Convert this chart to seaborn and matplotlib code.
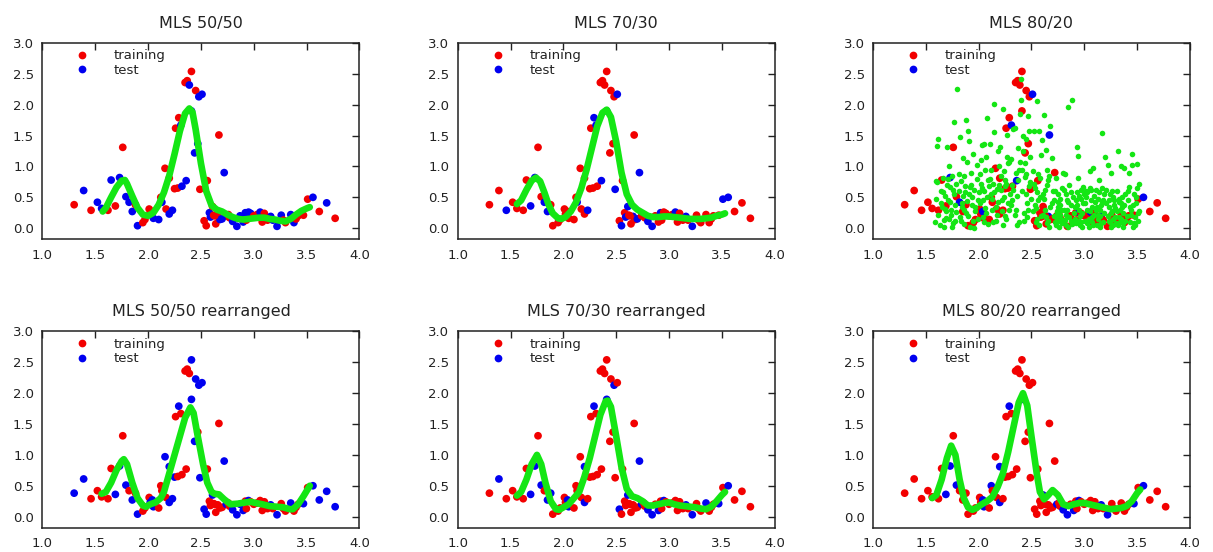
import numpy as np
import pandas as pd
import matplotlib
matplotlib.use('Agg')
import matplotlib.pyplot as plt
import seaborn as sns

# observations (same in every panel, only the training/test split changes)
obs_x = [1.30, 1.39, 1.46, 1.52, 1.56, 1.62, 1.65, 1.69, 1.73, 1.76,
         1.79, 1.82, 1.85, 1.88, 1.90, 1.95, 1.97, 2.01, 2.02, 2.05,
         2.04, 2.10, 2.12, 2.13, 2.16, 2.17, 2.20, 2.20, 2.23, 2.25,
         2.28, 2.26, 2.29, 2.31, 2.32, 2.35, 2.36, 2.37, 2.39, 2.41,
         2.41, 2.44, 2.45, 2.47, 2.48, 2.51, 2.49, 2.53, 2.55, 2.56,
         2.58, 2.59, 2.61, 2.62, 2.64, 2.67, 2.66, 2.68, 2.70, 2.72,
         2.74, 2.77, 2.80, 2.84, 2.87, 2.90, 2.92, 2.95, 2.97, 3.00,
         3.03, 3.06, 3.08, 3.10, 3.13, 3.16, 3.18, 3.22, 3.26, 3.30,
         3.35, 3.38, 3.42, 3.47, 3.51, 3.56, 3.62, 3.69, 3.77,
         2.63, 2.76, 2.93, 3.12, 3.28, 3.40]
obs_y = [0.38, 0.61, 0.29, 0.42, 0.32, 0.29, 0.78, 0.36, 0.82, 1.31,
         0.51, 0.42, 0.27, 0.38, 0.04, 0.09, 0.14, 0.31, 0.23, 0.16,
         0.27, 0.14, 0.50, 0.42, 0.97, 0.31, 0.81, 0.23, 0.29, 0.64,
         0.65, 1.62, 1.79, 1.67, 0.68, 2.36, 0.77, 2.39, 2.32, 2.54,
         1.90, 1.22, 2.23, 1.37, 2.13, 2.17, 0.63, 0.12, 0.04, 0.77,
         0.25, 0.18, 0.35, 0.21, 0.07, 1.51, 0.19, 0.14, 0.15, 0.90,
         0.20, 0.17, 0.11, 0.03, 0.20, 0.10, 0.25, 0.26, 0.24, 0.20,
         0.22, 0.26, 0.10, 0.24, 0.13, 0.19, 0.13, 0.03, 0.21, 0.09,
         0.22, 0.09, 0.20, 0.21, 0.47, 0.50, 0.27, 0.41, 0.16,
         0.20, 0.22, 0.13, 0.16, 0.13, 0.15]

# ids (1-based) of the observations that are test points in each panel
test_50 = [2, 4, 5, 7, 9, 11, 12, 13, 15, 20, 22, 24, 28, 29, 34, 35, 37, 39, 41, 42,
           44, 45, 46, 51, 52, 58, 59, 60, 61, 63, 64, 65, 66, 67, 68, 69, 72, 76, 77,
           78, 79, 81, 82, 86, 88]
test_70 = [3, 8, 9, 12, 13, 24, 29, 33, 34, 37, 41, 46, 47, 49, 52, 53, 57, 59, 60, 63,
           64, 67, 72, 76, 78, 85, 86]
test_80 = [9, 12, 21, 34, 37, 46, 56, 57, 68, 72, 76, 86]
test_50r = [1, 2, 8, 9, 11, 13, 15, 19, 20, 21, 25, 27, 28, 29, 30, 33, 40, 41, 42, 43,
            45, 46, 47, 48, 49, 53, 60, 61, 63, 64, 65, 66, 68, 76, 78, 81, 84, 86, 87,
            88, 89]
test_70r = [2, 8, 9, 11, 13, 14, 20, 21, 27, 28, 33, 41, 45, 48, 53, 60, 61, 63, 64, 66,
            68, 76, 78, 81, 84, 86]
test_80r = [8, 9, 11, 20, 21, 23, 27, 28, 33, 41, 53, 61, 63, 64, 66, 68, 76, 78, 84, 86]

# MLS fits
mls50_x = [1.57, 1.60, 1.65, 1.70, 1.75, 1.78, 1.80, 1.85, 1.90, 1.95, 2.00, 2.05, 2.10,
           2.15, 2.20, 2.25, 2.30, 2.35, 2.39, 2.42, 2.45, 2.50, 2.55, 2.60, 2.65, 2.70,
           2.75, 2.80, 2.85, 2.90, 2.95, 3.00, 3.05, 3.10, 3.15, 3.20, 3.25, 3.30, 3.35,
           3.40, 3.45, 3.50, 3.53]
mls50_y = [0.27, 0.33, 0.50, 0.66, 0.77, 0.78, 0.72, 0.52, 0.33, 0.22, 0.20, 0.25, 0.38,
           0.58, 0.85, 1.20, 1.57, 1.86, 1.94, 1.88, 1.60, 1.05, 0.60, 0.37, 0.30, 0.27,
           0.22, 0.18, 0.15, 0.14, 0.15, 0.16, 0.17, 0.17, 0.15, 0.14, 0.12, 0.11, 0.15,
           0.22, 0.28, 0.32, 0.34]
mls70_x = [1.56, 1.60, 1.65, 1.70, 1.74, 1.78, 1.82, 1.86, 1.90, 1.95, 1.98, 2.02, 2.07,
           2.12, 2.17, 2.22, 2.27, 2.32, 2.37, 2.41, 2.45, 2.50, 2.55, 2.60, 2.65, 2.70,
           2.75, 2.80, 2.85, 2.90, 2.95, 3.00, 3.05, 3.10, 3.15, 3.20, 3.25, 3.30, 3.35,
           3.40, 3.45, 3.50, 3.53]
mls70_y = [0.39, 0.45, 0.62, 0.77, 0.82, 0.76, 0.58, 0.38, 0.24, 0.16, 0.15, 0.18, 0.27,
           0.42, 0.65, 0.95, 1.30, 1.65, 1.87, 1.92, 1.80, 1.40, 0.90, 0.55, 0.38, 0.30,
           0.25, 0.20, 0.18, 0.18, 0.19, 0.19, 0.18, 0.17, 0.16, 0.15, 0.15, 0.15, 0.16,
           0.17, 0.20, 0.22, 0.24]
mls50r_x = [1.56, 1.60, 1.65, 1.70, 1.75, 1.77, 1.80, 1.85, 1.90, 1.95, 1.98, 2.02, 2.07,
            2.12, 2.15, 2.20, 2.25, 2.30, 2.35, 2.40, 2.43, 2.47, 2.52, 2.56, 2.60, 2.63,
            2.67, 2.72, 2.78, 2.85, 2.92, 2.97, 3.02, 3.08, 3.15, 3.22, 3.28, 3.34, 3.37,
            3.42, 3.47, 3.53]
mls50r_y = [0.37, 0.40, 0.55, 0.75, 0.90, 0.93, 0.85, 0.55, 0.30, 0.18, 0.16, 0.20, 0.23,
            0.30, 0.40, 0.70, 1.00, 1.30, 1.60, 1.77, 1.68, 1.30, 0.85, 0.55, 0.40, 0.37,
            0.36, 0.28, 0.20, 0.21, 0.23, 0.24, 0.22, 0.20, 0.17, 0.16, 0.15, 0.12, 0.12,
            0.20, 0.33, 0.50]
mls70r_x = [1.56, 1.60, 1.65, 1.70, 1.75, 1.79, 1.83, 1.88, 1.93, 1.96, 2.00, 2.05, 2.10,
            2.15, 2.20, 2.25, 2.30, 2.35, 2.40, 2.42, 2.45, 2.50, 2.55, 2.60, 2.65, 2.70,
            2.75, 2.80, 2.85, 2.90, 2.95, 3.00, 3.05, 3.10, 3.15, 3.20, 3.25, 3.30, 3.35,
            3.40, 3.45, 3.50, 3.53]
mls70r_y = [0.34, 0.40, 0.60, 0.85, 1.00, 0.85, 0.55, 0.25, 0.12, 0.11, 0.15, 0.20, 0.30,
            0.40, 0.65, 0.95, 1.30, 1.65, 1.87, 1.88, 1.78, 1.30, 0.80, 0.45, 0.33, 0.30,
            0.25, 0.18, 0.18, 0.20, 0.22, 0.23, 0.20, 0.18, 0.17, 0.16, 0.15, 0.13, 0.12,
            0.16, 0.25, 0.35, 0.40]
mls80r_x = [1.56, 1.60, 1.65, 1.70, 1.74, 1.78, 1.82, 1.86, 1.90, 1.94, 1.98, 2.03, 2.08,
            2.13, 2.18, 2.23, 2.28, 2.33, 2.38, 2.42, 2.46, 2.50, 2.55, 2.58, 2.62, 2.66,
            2.70, 2.75, 2.80, 2.85, 2.90, 2.95, 3.00, 3.05, 3.10, 3.15, 3.20, 3.25, 3.30,
            3.35, 3.40, 3.45, 3.50, 3.53]
mls80r_y = [0.30, 0.35, 0.60, 0.95, 1.15, 1.00, 0.60, 0.30, 0.15, 0.11, 0.14, 0.20, 0.25,
            0.32, 0.48, 0.70, 1.05, 1.45, 1.85, 2.00, 1.80, 1.30, 0.70, 0.40, 0.28, 0.35,
            0.43, 0.35, 0.20, 0.17, 0.20, 0.22, 0.22, 0.20, 0.18, 0.16, 0.14, 0.12, 0.13,
            0.14, 0.17, 0.25, 0.38, 0.44]

# MLS 80/20 output points
mls80_x = [1.59, 1.60, 1.61, 1.62, 1.63, 1.64, 1.65, 1.66, 1.67, 1.68, 1.69, 1.70, 1.61, 1.64, 1.67, 1.69, 1.62, 1.66, 1.60, 1.68,
           1.71, 1.72, 1.73, 1.74, 1.75, 1.76, 1.77, 1.78, 1.79, 1.72, 1.74, 1.76, 1.78, 1.71, 1.73, 1.75, 1.77, 1.79, 1.70, 1.80,
           1.81, 1.82, 1.83, 1.84, 1.85, 1.86, 1.87, 1.88, 1.89, 1.81, 1.83, 1.85, 1.87, 1.89, 1.82, 1.84, 1.86, 1.88, 1.90, 1.86,
           1.91, 1.92, 1.93, 1.94, 1.95, 1.96, 1.97, 1.98, 1.99, 1.91, 1.93, 1.95, 1.97, 1.99, 1.92, 1.94, 1.96, 1.98, 2.00, 1.90,
           2.01, 2.02, 2.03, 2.04, 2.05, 2.06, 2.07, 2.08, 2.09, 2.01, 2.03, 2.05, 2.07, 2.09, 2.02, 2.04, 2.06, 2.08, 2.10, 2.05,
           2.11, 2.12, 2.13, 2.14, 2.15, 2.16, 2.17, 2.18, 2.19, 2.11, 2.13, 2.15, 2.17, 2.19, 2.12, 2.14, 2.16, 2.18, 2.20, 2.15,
           2.21, 2.22, 2.23, 2.24, 2.25, 2.26, 2.27, 2.28, 2.29, 2.21, 2.23, 2.25, 2.27, 2.29, 2.22, 2.24, 2.26, 2.28, 2.30, 2.25,
           2.31, 2.32, 2.33, 2.34, 2.35, 2.36, 2.37, 2.38, 2.39, 2.31, 2.33, 2.35, 2.37, 2.39, 2.32, 2.34, 2.36, 2.38, 2.40, 2.40,
           2.41, 2.42, 2.43, 2.44, 2.45, 2.46, 2.47, 2.48, 2.49, 2.41, 2.43, 2.45, 2.47, 2.49, 2.42, 2.44, 2.46, 2.48, 2.50, 2.45,
           2.51, 2.52, 2.53, 2.54, 2.55, 2.56, 2.57, 2.58, 2.59, 2.51, 2.53, 2.55, 2.57, 2.59, 2.52, 2.54, 2.56, 2.58, 2.60, 2.55,
           2.61, 2.62, 2.63, 2.64, 2.65, 2.66, 2.67, 2.68, 2.69, 2.61, 2.63, 2.65, 2.67, 2.69, 2.62, 2.64, 2.66, 2.68, 2.70, 2.65,
           2.71, 2.72, 2.73, 2.74, 2.75, 2.76, 2.77, 2.78, 2.79, 2.71, 2.73, 2.75, 2.77, 2.79, 2.72, 2.74, 2.76, 2.78, 2.80, 2.75, 2.73, 2.77,
           2.81, 2.82, 2.83, 2.84, 2.85, 2.86, 2.87, 2.88, 2.89, 2.81, 2.83, 2.85, 2.87, 2.89, 2.82, 2.84, 2.86, 2.88, 2.90, 2.85, 2.83, 2.87,
           2.91, 2.92, 2.93, 2.94, 2.95, 2.96, 2.97, 2.98, 2.99, 2.91, 2.93, 2.95, 2.97, 2.99, 2.92, 2.94, 2.96, 2.98, 3.00, 2.95, 2.93, 2.97,
           3.01, 3.02, 3.03, 3.04, 3.05, 3.06, 3.07, 3.08, 3.09, 3.01, 3.03, 3.05, 3.07, 3.09, 3.02, 3.04, 3.06, 3.08, 3.10, 3.05, 3.03, 3.07,
           3.11, 3.12, 3.13, 3.14, 3.15, 3.16, 3.17, 3.18, 3.19, 3.11, 3.13, 3.15, 3.17, 3.19, 3.12, 3.14, 3.16, 3.18, 3.20, 3.15, 3.13, 3.17,
           3.21, 3.22, 3.23, 3.24, 3.25, 3.26, 3.27, 3.28, 3.29, 3.21, 3.23, 3.25, 3.27, 3.29, 3.22, 3.24, 3.26, 3.28, 3.30, 3.25, 3.23, 3.27,
           3.31, 3.32, 3.33, 3.34, 3.35, 3.36, 3.37, 3.38, 3.39, 3.31, 3.33, 3.35, 3.37, 3.39, 3.32, 3.34, 3.36, 3.38, 3.40, 3.35, 3.33, 3.37,
           3.41, 3.42, 3.43, 3.44, 3.45, 3.46, 3.47, 3.48, 3.49, 3.50, 3.51, 3.52, 3.41, 3.43, 3.45, 3.47, 3.49, 3.51, 3.42, 3.44, 3.46, 3.48, 3.50, 3.52]
mls80_y = [0.10, 0.48, 0.75, 0.22, 0.05, 0.60, 0.35, 0.81, 0.13, 0.52, 0.28, 0.70, 1.33, 0.40, 0.02, 0.17, 1.44, 0.58, 0.76, 0.31,
           0.46, 0.15, 0.67, 0.30, 0.84, 0.08, 0.55, 0.38, 0.72, 1.00, 0.22, 0.62, 0.12, 0.80, 0.42, 0.02, 1.72, 0.27, 1.32, 2.25,
           0.60, 0.18, 0.77, 0.35, 0.52, 0.06, 0.68, 0.25, 0.44, 0.88, 0.12, 1.13, 0.58, 1.08, 1.47, 0.40, 0.85, 1.75, 0.20, 0.30,
           0.55, 0.02, 0.70, 0.38, 0.12, 0.62, 0.28, 0.80, 0.46, 1.42, 0.90, 1.21, 0.35, 0.15, 0.66, 0.50, 0.00, 1.02, 0.58, 1.58,
           0.40, 0.72, 1.34, 0.18, 0.60, 0.33, 1.15, 0.50, 0.06, 0.87, 0.65, 1.37, 0.25, 0.78, 1.10, 0.45, 0.95, 1.78, 0.68, 0.10,
           1.37, 0.55, 0.30, 0.72, 2.01, 0.12, 0.64, 0.42, 1.00, 0.80, 0.48, 1.56, 0.22, 0.70, 0.95, 0.10, 0.35, 1.25, 1.32, 0.58,
           0.62, 0.28, 1.93, 0.50, 0.78, 0.15, 1.51, 0.40, 1.08, 0.85, 0.05, 0.68, 1.15, 0.30, 0.45, 0.92, 0.72, 1.05, 0.55, 0.20,
           0.38, 0.70, 1.60, 0.22, 0.90, 0.52, 1.30, 0.10, 1.85, 1.12, 0.62, 0.30, 0.78, 1.08, 0.45, 1.62, 0.05, 0.95, 2.42, 2.07,
           0.60, 1.50, 0.25, 0.83, 1.45, 0.40, 1.82, 0.68, 1.15, 0.95, 0.12, 0.55, 0.30, 0.75, 1.25, 1.05, 0.18, 1.58, 0.48, 0.88,
           0.28, 1.57, 0.65, 0.10, 2.06, 0.45, 1.57, 0.82, 0.20, 0.92, 0.38, 0.58, 0.05, 1.18, 0.72, 0.33, 0.88, 0.50, 1.43, 0.15,
           0.55, 1.83, 0.30, 1.26, 0.70, 0.12, 0.85, 1.65, 0.40, 0.22, 0.62, 0.95, 0.02, 1.13, 0.48, 0.18, 0.78, 0.35, 0.60, 0.08,
           0.45, 0.10, 0.82, 0.28, 0.55, 0.02, 0.38, 0.15, 0.65, 0.20, 0.05, 0.35, 0.48, 0.08, 0.60, 0.25, 0.12, 0.30, 0.90, 0.42, 0.18, 0.22,
           0.30, 0.88, 0.05, 0.45, 1.96, 0.18, 0.58, 2.07, 0.10, 0.62, 0.22, 0.02, 0.38, 0.50, 0.14, 0.30, 0.70, 0.06, 0.25, 0.42, 0.55, 0.12,
           0.35, 0.08, 1.32, 1.17, 0.52, 0.20, 0.62, 0.02, 0.40, 0.15, 0.58, 0.30, 0.10, 0.66, 0.45, 0.82, 0.05, 0.25, 0.55, 0.12, 0.38, 0.48,
           0.12, 0.60, 0.30, 0.02, 0.93, 0.45, 0.18, 0.97, 0.52, 0.40, 0.08, 0.65, 0.35, 0.22, 0.50, 0.15, 0.62, 0.05, 0.42, 0.28, 0.58, 0.10,
           0.30, 0.05, 0.48, 0.78, 0.20, 0.38, 1.54, 0.10, 0.55, 0.62, 0.15, 0.02, 0.42, 0.25, 0.35, 0.58, 0.08, 0.45, 1.16, 0.30, 0.22, 0.65,
           0.40, 1.03, 0.12, 0.55, 0.90, 0.28, 0.05, 0.45, 0.18, 0.62, 0.35, 0.02, 0.50, 0.32, 0.20, 0.10, 0.60, 0.38, 0.08, 0.25, 0.46, 0.15,
           0.28, 1.25, 0.48, 0.10, 1.00, 0.35, 0.02, 0.97, 0.55, 0.60, 0.18, 0.40, 0.25, 0.12, 0.05, 0.30, 0.50, 0.38, 0.20, 0.15, 0.42, 0.08,
           0.45, 0.90, 0.10, 0.30, 1.20, 0.02, 0.55, 0.18, 0.40, 1.04, 0.25, 0.72, 0.60, 0.35, 1.03, 0.08, 0.50, 0.12, 0.67, 0.22, 0.38, 0.05, 0.65, 0.28]

titles = ['MLS 50/50', 'MLS 70/30', 'MLS 80/20',
          'MLS 50/50 rearranged', 'MLS 70/30 rearranged', 'MLS 80/20 rearranged']

RED = '#f20000'
BLUE = '#0000f0'
GREEN = '#14e614'
TXT = '#222222'

sns.set_theme(style='white')
plt.rcParams['font.family'] = ['DejaVu Sans']
plt.rcParams['text.color'] = TXT
plt.rcParams['xtick.color'] = TXT
plt.rcParams['ytick.color'] = TXT

fig, axes = plt.subplots(2, 3, figsize=(12.13, 5.52), dpi=100)
plt.subplots_adjust(left=0.035, right=0.981, top=0.922, bottom=0.044,
                    wspace=0.31, hspace=0.47)

panels = [
    (test_50, mls50_x, mls50_y, None),
    (test_70, mls70_x, mls70_y, None),
    (test_80, None, None, (mls80_x, mls80_y)),
    (test_50r, mls50r_x, mls50r_y, None),
    (test_70r, mls70r_x, mls70r_y, None),
    (test_80r, mls80r_x, mls80r_y, None),
]

for ax, title, (test_ids, cx, cy, cloud) in zip(axes.flat, titles, panels):
    split = ['test' if (i + 1) in test_ids else 'training' for i in range(len(obs_x))]
    df = pd.DataFrame({'x': obs_x, 'y': obs_y, 'set': split})
    sns.scatterplot(data=df, x='x', y='y', hue='set', hue_order=['training', 'test'],
                    palette={'training': RED, 'test': BLUE}, s=31, linewidth=0,
                    alpha=1, ax=ax, zorder=2)
    if cx is not None:
        sns.lineplot(x=cx, y=cy, color=GREEN, linewidth=4.8, sort=False,
                     ax=ax, zorder=3)
    if cloud is not None:
        sns.scatterplot(x=cloud[0], y=cloud[1], color=GREEN, s=16, linewidth=0,
                        alpha=1, ax=ax, zorder=3)

    ax.set_xlim(1.0, 4.0)
    ax.set_ylim(-0.18, 3.0)
    ax.set_xticks(np.arange(1.0, 4.01, 0.5))
    ax.set_yticks(np.arange(0.0, 3.01, 0.5))
    ax.set_xticklabels([f'{v:.1f}' for v in np.arange(1.0, 4.01, 0.5)])
    ax.set_yticklabels([f'{v:.1f}' for v in np.arange(0.0, 3.01, 0.5)])
    ax.tick_params(direction='in', top=True, right=True, length=5, width=1,
                   labelsize=9.5, colors='#222222')
    ax.tick_params(axis='x', pad=7)
    ax.tick_params(axis='y', pad=6)
    ax.set_xlabel('')
    ax.set_ylabel('')
    for sp in ax.spines.values():
        sp.set_color('#222222')
        sp.set_linewidth(1.1)
    ax.set_title(title, fontsize=11.5, pad=11, color=TXT)

    sns.move_legend(ax, 'upper left', bbox_to_anchor=(0.105, 0.968), title=None,
                    frameon=False, handlelength=1.0, handletextpad=1.9,
                    labelspacing=0.12, borderpad=0, borderaxespad=0, fontsize=9.5)

fig.savefig('out.png', dpi=100, facecolor='white')
